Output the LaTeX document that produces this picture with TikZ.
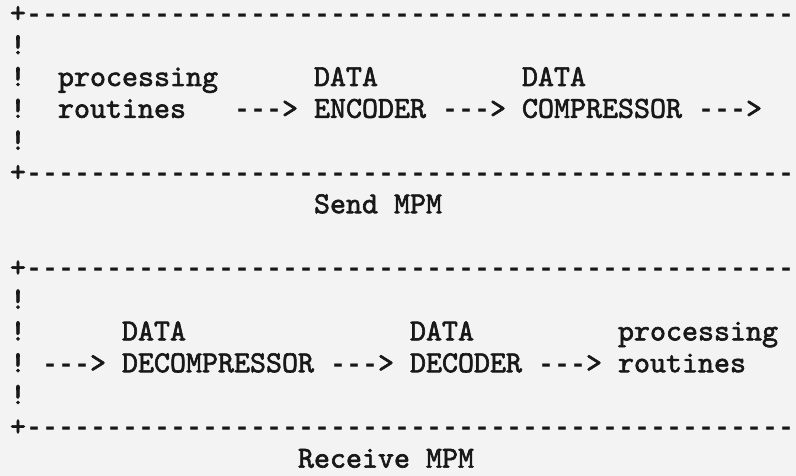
\documentclass[tikz,border=0pt]{standalone}
\usepackage{fontspec}
\setmonofont{Liberation Mono}
\newfontfamily\tw{lmmono10-regular}[Extension=.otf,FakeBold=2]
\newcommand\hy[1]{{\ttfamily\bfseries\fontsize{26.67}{30}\selectfont #1}}
\newcommand\dashrow{+\hy{------------------------------------------------}}
\definecolor{paper}{RGB}{243,243,243}
\definecolor{ink}{RGB}{24,24,24}
\begin{document}
\begin{tikzpicture}[x=1pt,y=1pt,
  tt/.style={anchor=base west,inner sep=0pt,outer sep=0pt,text=ink,
    font=\tw\fontsize{30.48}{34}\selectfont}]
\fill[paper] (0,0) rectangle (796,-476);
\useasboundingbox (0,0) rectangle (796,-476);
\clip (0,0) rectangle (796,-476);
% columns: x = 10 + 16*col ; rows: baseline y = -(22.4 + 31.8*row)
% ---- send box ----
\node[tt] (s0)  at (10,-22.4)  {\dashrow};
\node[tt] (s1)  at (10,-54.2)  {!};
\node[tt] (s2)  at (10,-86.0)  {!};
\node[tt] (proc1) at (58,-86.0) {processing};
\node[tt] (data1) at (314,-86.0) {DATA};
\node[tt] (data2) at (522,-86.0) {DATA};
\node[tt] (s3)  at (10,-117.8) {!};
\node[tt] (rout1) at (58,-117.8) {routines};
\node[tt] (a1)  at (234,-117.8) {\hy{---}>};
\node[tt] (enc) at (314,-117.8) {ENCODER};
\node[tt] (a2)  at (442,-117.8) {\hy{---}>};
\node[tt] (comp) at (522,-117.8) {COMPRESSOR};
\node[tt] (a3)  at (698,-117.8) {\hy{---}>};
\node[tt] (s4)  at (10,-149.6) {!};
\node[tt] (s5)  at (10,-181.4) {\dashrow};
\node[tt] (send) at (314,-213.2) {Send MPM};
% ---- receive box ----
\node[tt] (r0)  at (10,-276.8) {\dashrow};
\node[tt] (r1)  at (10,-308.6) {!};
\node[tt] (r2)  at (10,-340.4) {!};
\node[tt] (data3) at (122,-340.4) {DATA};
\node[tt] (data4) at (410,-340.4) {DATA};
\node[tt] (proc2) at (618,-340.4) {processing};
\node[tt] (r3)  at (10,-372.2) {!};
\node[tt] (b1)  at (42,-372.2) {\hy{---}>};
\node[tt] (decomp) at (122,-372.2) {DECOMPRESSOR};
\node[tt] (b2)  at (330,-372.2) {\hy{---}>};
\node[tt] (dec) at (410,-372.2) {DECODER};
\node[tt] (b3)  at (538,-372.2) {\hy{---}>};
\node[tt] (rout2) at (618,-372.2) {routines};
\node[tt] (r4)  at (10,-404.0) {!};
\node[tt] (r5)  at (10,-435.8) {\dashrow};
\node[tt] (recv) at (298,-467.6) {Receive MPM};
\end{tikzpicture}
\end{document}
